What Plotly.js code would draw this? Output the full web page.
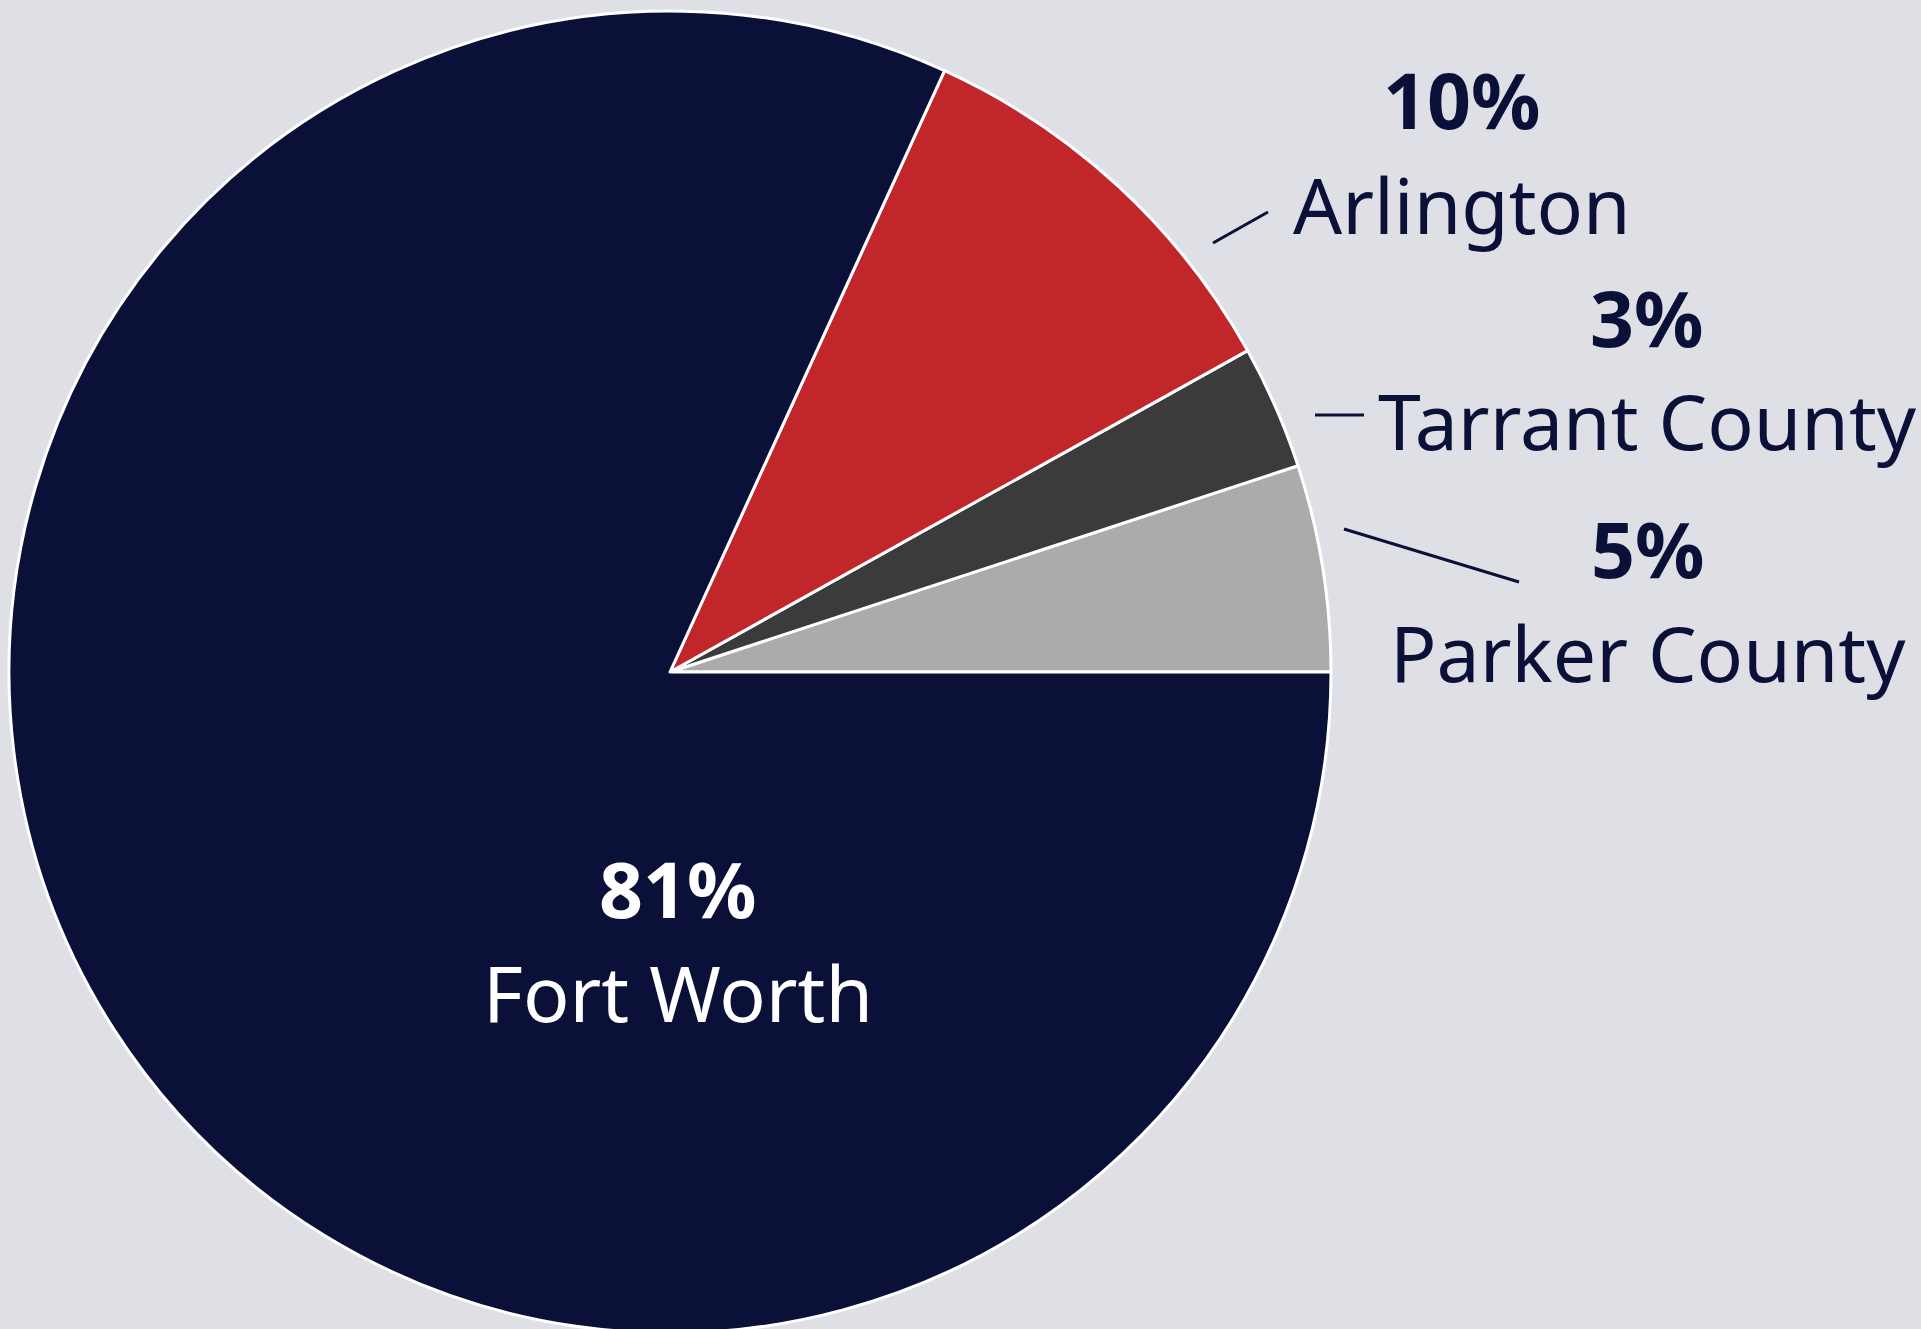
<!DOCTYPE html>
<html>
<head>
<meta charset="utf-8">
<script src="https://cdn.plot.ly/plotly-3.0.1.min.js"></script>
<style>
  html, body { margin: 0; padding: 0; background: #dfe0e5; overflow: hidden; }
  #chart { width: 1921px; height: 1344px; }
</style>
</head>
<body>
<div id="chart"></div>
<script>
// Data (counterclockwise from 3 o'clock)
const labels = ["Parker County", "Tarrant County", "Arlington", "Fort Worth"];
const values = [5, 3, 10, 81];
const percentLabels = ["5%", "3%", "10%", "81%"];
const sliceColors = ["#ababab", "#3b3b3b", "#c1272a", "#0a1038"];

// Layout helpers
const W = 1921, H = 1344;
const px = x => x / W;
const py = y => 1 - y / H;
const navy = "#0a1038";
const fontFamily = "Noto Sans, Open Sans, sans-serif";
const fontSize = 77;

// label placement (centre x, centre y of percent line, centre y of name line), text colour
const labelPos = [
  { x: 1648, yp: 548, yn: 652, color: navy },
  { x: 1647, yp: 317, yn: 420, color: navy },
  { x: 1462, yp: 100, yn: 204, color: navy },
  { x: 678,  yp: 888, yn: 992, color: "#ffffff" }
];
// leader lines
const leaders = [
  [1344, 529, 1519, 582],
  [1315, 415, 1364, 415],
  [1213, 243, 1268, 212]
];

const annotations = [];
labels.forEach((lab, i) => {
  const p = labelPos[i];
  annotations.push({
    xref: "paper", yref: "paper", x: px(p.x), y: py(p.yp),
    xanchor: "center", yanchor: "middle", showarrow: false,
    text: "<b>" + percentLabels[i] + "</b>",
    font: { family: fontFamily, size: fontSize, color: p.color }
  });
  annotations.push({
    xref: "paper", yref: "paper", x: px(p.x), y: py(p.yn),
    xanchor: "center", yanchor: "middle", showarrow: false,
    text: lab,
    font: { family: fontFamily, size: fontSize, color: p.color }
  });
});

const shapes = leaders.map(l => ({
  type: "line", xref: "paper", yref: "paper",
  x0: px(l[0]), y0: py(l[1]), x1: px(l[2]), y1: py(l[3]),
  line: { color: navy, width: 3 }
}));

// Plotly offsets the start in counterclockwise mode by the first slice's sweep
const total = values.reduce((a, b) => a + b, 0);
const rotation = 90 - 360 * values[0] / total;

const trace = {
  type: "pie",
  labels: labels,
  values: values,
  sort: false,
  direction: "counterclockwise",
  rotation: rotation,
  textinfo: "none",
  hoverinfo: "none",
  marker: { colors: sliceColors, line: { color: "#ffffff", width: 3 } },
  domain: { x: [px(9), px(1331)], y: [0, 1] }
};

const layout = {
  width: W, height: H,
  margin: { l: 0, r: 0, t: 0, b: 0 },
  paper_bgcolor: "#dfe0e5",
  plot_bgcolor: "#dfe0e5",
  showlegend: false,
  annotations: annotations,
  shapes: shapes
};

Plotly.newPlot("chart", [trace], layout, { displayModeBar: false, staticPlot: true });
</script>
</body>
</html>
